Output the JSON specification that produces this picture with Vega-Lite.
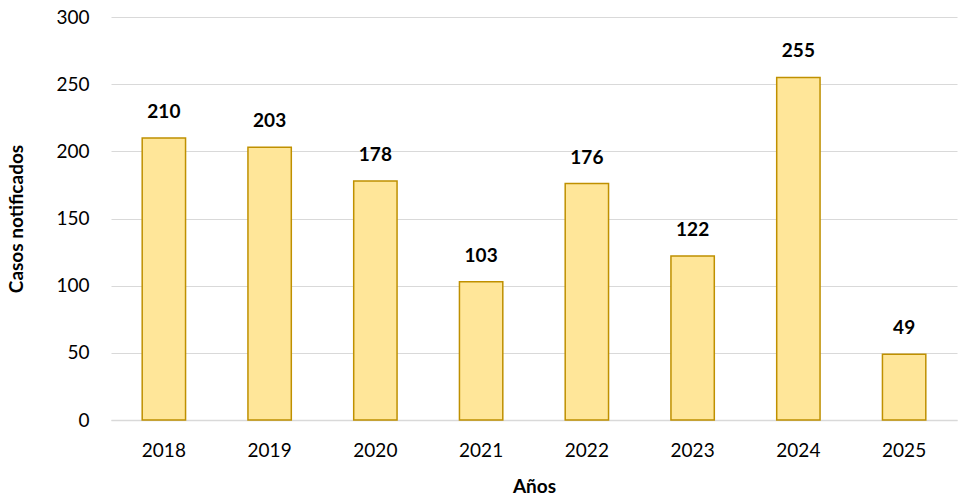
{
  "$schema": "https://vega.github.io/schema/vega-lite/v6.json",
  "width": 846,
  "height": 403,
  "autosize": {"type": "none"},
  "padding": {"left": 111, "top": 17, "right": 2, "bottom": 78},
  "background": "white",
  "config": {
    "view": {"stroke": null},
    "font": "Lato",
    "axis": {"labelFont": "Lato", "titleFont": "Lato", "labelColor": "#000000", "titleColor": "#000000"}
  },
  "data": {
    "values": [
      {"year": "2018", "casos": 210},
      {"year": "2019", "casos": 203},
      {"year": "2020", "casos": 178},
      {"year": "2021", "casos": 103},
      {"year": "2022", "casos": 176},
      {"year": "2023", "casos": 122},
      {"year": "2024", "casos": 255},
      {"year": "2025", "casos": 49}
    ]
  },
  "encoding": {
    "x": {
      "field": "year", "type": "nominal",
      "scale": {"paddingInner": 0.59, "paddingOuter": 0.295},
      "axis": {
        "title": "Años", "labelAngle": 0, "labelFontSize": 19, "labelPadding": 21,
        "ticks": false, "domainColor": "#D9D9D9", "domainWidth": 1.5,
        "titleFontSize": 19, "titleFontWeight": "bold", "titlePadding": 17
      }
    },
    "y": {
      "field": "casos", "type": "quantitative",
      "scale": {"domain": [0, 300]},
      "axis": {
        "title": "Casos notificados", "values": [0, 50, 100, 150, 200, 250, 300],
        "labelFontSize": 19, "labelPadding": 22, "ticks": false, "domain": false,
        "gridColor": "#D9D9D9", "gridWidth": 1.2,
        "titleFontSize": 19, "titleFontWeight": "bold", "titlePadding": 29
      }
    }
  },
  "layer": [
    {
      "mark": {"type": "bar", "fill": "#FFE699", "stroke": "#BF9000", "strokeWidth": 1.5}
    },
    {
      "mark": {"type": "text", "fontWeight": "bold", "fontSize": 19, "dy": -26, "color": "#000000"},
      "encoding": {"text": {"field": "casos", "type": "quantitative"}}
    }
  ]
}
